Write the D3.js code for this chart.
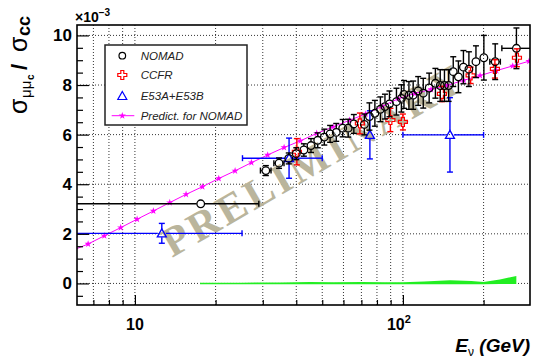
<!DOCTYPE html>
<html>
<head>
<meta charset="utf-8">
<script src="https://cdn.jsdelivr.net/npm/d3@7"></script>
<style>
  body { margin: 0; background: #fff; }
  text { font-family: "Liberation Sans", Arial, sans-serif; }
</style>
</head>
<body>
<div class="chart1"></div>
<script>
// NOMAD (open circles)
var nomadE   = [17.6, 30.8, 34.5, 37.5, 40.0, 42.7, 45.4, 48.1, 50.9, 53.5, 56.4, 59.6, 62.5, 65.6, 71.8, 75.0, 78.6, 82.4, 85.7, 89.1,
                94.6, 98.7, 100.9, 105.3, 109.2, 114.0, 119.1, 125.3, 132.2, 137.8, 142.9, 148.1, 154.1, 161.1, 168.2, 176.3, 187.3, 200.5, 221.0, 265.2];
var nomadV   = [3.21, 4.55, 4.85, 5.04, 5.23, 5.38, 5.56, 5.77, 5.90, 6.03, 6.09, 6.26, 6.26, 6.43, 6.41, 6.73, 6.86, 7.02, 7.13, 7.24,
                7.33, 7.46, 7.62, 7.58, 7.59, 7.76, 7.67, 7.88, 8.07, 7.98, 7.98, 7.98, 8.54, 8.33, 8.72, 8.64, 8.94, 9.10, 8.94, 9.48];
var nomadErr = [0.10, 0.20, 0.21, 0.22, 0.24, 0.25, 0.28, 0.30, 0.32, 0.34, 0.36, 0.35, 0.36, 0.38, 0.42, 0.55, 0.52, 0.50, 0.50, 0.52,
                0.54, 0.55, 0.56, 0.56, 0.57, 0.58, 0.60, 0.60, 0.60, 0.64, 0.64, 0.64, 0.60, 0.64, 0.67, 0.70, 0.64, 0.90, 0.72, 0.82];
var nomadLo  = [5.5, 29.4, 33.0, 37.5, 40.0, 42.7, 45.4, 48.1, 50.9, 53.5, 56.4, 59.6, 62.5, 65.6, 71.8, 75.0, 78.6, 82.4, 85.7, 89.1,
                94.6, 98.7, 100.9, 105.3, 109.2, 114.0, 119.1, 125.3, 132.2, 137.8, 142.9, 148.1, 154.1, 161.1, 168.2, 176.3, 187.3, 200.5, 211, 234];
var nomadHi  = [29.0, 32.2, 36.0, 37.5, 40.0, 42.7, 45.4, 48.1, 50.9, 53.5, 56.4, 59.6, 62.5, 65.6, 71.8, 75.0, 78.6, 82.4, 85.7, 89.1,
                94.6, 98.7, 100.9, 105.3, 109.2, 114.0, 119.1, 125.3, 132.2, 137.8, 142.9, 148.1, 154.1, 161.1, 168.2, 176.3, 187.3, 200.5, 231, 302];

// CCFR (open crosses)
var ccfrE   = [40.2, 69.1, 89.8, 100.0, 139.8, 178.9, 220.4, 266.4];
var ccfrV   = [5.31, 6.45, 6.59, 6.51, 7.64, 8.39, 8.65, 9.10];
var ccfrErr = [0.53, 0.42, 0.47, 0.32, 0.31, 0.33, 0.37, 0.36];

// E53A+E53B (open triangles)
var e53E   = [12.6, 37.6, 75.3, 149.8];
var e53V   = [2.02, 5.05, 5.99, 5.99];
var e53Err = [0.40, 0.81, 0.97, 1.50];
var e53Lo  = [5.0, 25.2, 75.3, 100];
var e53Hi  = [25.1, 50.0, 100, 200];

// Predict. for NOMAD (line + stars)
var predE = [5.82, 6.69, 7.69, 8.85, 10.19, 11.72, 13.49, 15.52, 17.86, 20.55, 23.65, 27.21, 31.30, 36.03, 41.45,
             47.69, 54.89, 63.15, 72.65, 83.61, 96.2, 110.7, 127.4, 146.6, 168.6, 194.1, 223.3, 256.9, 295.6];
var predV = [1.32, 1.59, 1.92, 2.25, 2.59, 2.92, 3.26, 3.59, 3.90, 4.23, 4.54, 4.87, 5.18, 5.48, 5.75,
             6.05, 6.31, 6.58, 6.83, 7.14, 7.45, 7.66, 7.82, 7.99, 8.19, 8.38, 8.58, 8.77, 8.96];

// green band near zero
var bandE  = [17.5, 25, 35, 45, 55, 70, 85, 100, 120, 150, 180, 200, 230, 265];
var bandLo = [-0.03, -0.03, -0.03, -0.03, -0.03, -0.03, -0.03, -0.03, -0.03, -0.03, -0.03, -0.03, -0.02, -0.02];
var bandHi = [0.03, 0.03, 0.04, 0.06, 0.05, 0.06, 0.05, 0.05, 0.08, 0.13, 0.10, 0.06, 0.16, 0.30];

var xMajor = [10, 100];
var xMinor = [7, 8, 9, 20, 30, 40, 50, 60, 70, 80, 90, 200];
var yMajor = [0, 2, 4, 6, 8, 10];

var svg = d3.select(".chart1")
    .append("svg")
    .attr("width", 533)
    .attr("height", 359);

var frameL = 77, frameR = 530, frameT = 25, frameB = 305;

var xScale = d3.scaleLog()
    .domain([6.08, 298])
    .range([frameL, frameR]);

var yScale = d3.scaleLinear()
    .domain([-0.87, 10.42])
    .range([frameB, frameT]);

svg.append("clipPath").attr("id", "frame")
  .append("rect")
    .attr("x", frameL).attr("y", frameT)
    .attr("width", frameR - frameL).attr("height", frameB - frameT);

// grid
var grid = svg.append("g").attr("stroke", "#000").attr("stroke-width", 0.8).attr("stroke-dasharray", "1,2");
grid.selectAll(".gx")
    .data(xMajor.concat(xMinor))
    .enter().append("line")
    .attr("x1", function(d) { return xScale(d); })
    .attr("x2", function(d) { return xScale(d); })
    .attr("y1", frameT).attr("y2", frameB);
grid.selectAll(".gy")
    .data(yMajor)
    .enter().append("line")
    .attr("x1", frameL).attr("x2", frameR)
    .attr("y1", function(d) { return yScale(d); })
    .attr("y2", function(d) { return yScale(d); });

// watermark
svg.append("text")
    .attr("transform", "translate(172,258) rotate(-30)")
    .style("font-family", "'Liberation Serif', 'Times New Roman', serif")
    .style("font-weight", "bold")
    .style("font-size", "42px")
    .style("letter-spacing", "3.5px")
    .attr("fill", "#bab59c")
    .text("PRELIMINARY");

var plot = svg.append("g").attr("clip-path", "url(#frame)");

// green band
var bandData = bandE.map(function(e, i) { return { e: e, lo: bandLo[i], hi: bandHi[i] }; });
plot.append("path")
    .datum(bandData)
    .attr("fill", "#22ee22")
    .attr("d", d3.area()
      .x(function(d) { return xScale(d.e); })
      .y0(function(d) { return yScale(d.lo); })
      .y1(function(d) { return yScale(d.hi); }));

// prediction line
var predData = predE.map(function(e, i) { return { e: e, v: predV[i] }; });
plot.append("path")
    .datum(predData)
    .attr("fill", "none")
    .attr("stroke", "#ff00ff")
    .attr("stroke-width", 1)
    .attr("d", d3.line()
      .x(function(d) { return xScale(d.e); })
      .y(function(d) { return yScale(d.v); }));
plot.selectAll(".star")
    .data(predData)
    .enter().append("path")
    .attr("transform", function(d) { return "translate(" + xScale(d.e) + "," + yScale(d.v) + ")"; })
    .attr("d", d3.symbol(d3.symbolStar).size(16))
    .attr("fill", "#ff00ff");

// error bars leaving a gap for the marker
function errorBars(g, pts, color, gap) {
  var cap = 3;
  pts.forEach(function(p) {
    var cx = xScale(p.e), cy = yScale(p.v);
    var yt = yScale(p.v + p.err), yb = yScale(p.v - p.err);
    var segs = [];
    if (cy - yt > gap) {
      segs.push([cx, yt, cx, cy - gap], [cx - cap, yt, cx + cap, yt]);
      segs.push([cx, cy + gap, cx, yb], [cx - cap, yb, cx + cap, yb]);
    }
    if (p.lo != null && p.lo < p.e) {
      var xl = xScale(p.lo), xh = xScale(p.hi);
      if (cx - xl > gap) segs.push([xl, cy, cx - gap, cy], [xl, cy - cap, xl, cy + cap]);
      if (xh - cx > gap) segs.push([cx + gap, cy, xh, cy], [xh, cy - cap, xh, cy + cap]);
    }
    segs.forEach(function(s) {
      g.append("line")
        .attr("x1", s[0]).attr("y1", s[1]).attr("x2", s[2]).attr("y2", s[3])
        .attr("stroke", color).attr("stroke-width", 1.4);
    });
  });
}

var crossPath = "M-1.5,-4.5h3v3h3v3h-3v3h-3v-3h-3v-3h3z";
var triPath = "M0,-4.5L4.5,3.5L-4.5,3.5Z";

// E53A+E53B
var e53Data = e53E.map(function(e, i) { return { e: e, v: e53V[i], err: e53Err[i], lo: e53Lo[i], hi: e53Hi[i] }; });
errorBars(plot, e53Data, "#0000ff", 4);
plot.selectAll(".tri")
    .data(e53Data)
    .enter().append("path")
    .attr("transform", function(d) { return "translate(" + xScale(d.e) + "," + yScale(d.v) + ")"; })
    .attr("d", triPath)
    .attr("fill", "none").attr("stroke", "#0000ff").attr("stroke-width", 1.3);

// CCFR
var ccfrData = ccfrE.map(function(e, i) { return { e: e, v: ccfrV[i], err: ccfrErr[i] }; });
errorBars(plot, ccfrData, "#ff0000", 4.5);
plot.selectAll(".cross")
    .data(ccfrData)
    .enter().append("path")
    .attr("transform", function(d) { return "translate(" + xScale(d.e) + "," + yScale(d.v) + ")"; })
    .attr("d", crossPath)
    .attr("fill", "none").attr("stroke", "#ff0000").attr("stroke-width", 1.2);

// NOMAD
var nomadData = nomadE.map(function(e, i) { return { e: e, v: nomadV[i], err: nomadErr[i], lo: nomadLo[i], hi: nomadHi[i] }; });
errorBars(plot, nomadData, "#000", 4);
plot.selectAll(".circ")
    .data(nomadData)
    .enter().append("circle")
    .attr("cx", function(d) { return xScale(d.e); })
    .attr("cy", function(d) { return yScale(d.v); })
    .attr("r", 3.8)
    .attr("fill", "none").attr("stroke", "#000").attr("stroke-width", 1.3);

// axes
var yAxis = d3.axisLeft(yScale).tickValues(yMajor).tickSize(-12).tickPadding(5).tickFormat(d3.format("d"));
var yMinorVals = d3.range(-0.5, 10.5, 0.5).filter(function(d) { return yMajor.indexOf(d) < 0; });
svg.append("g")
    .attr("transform", "translate(" + frameL + ",0)")
    .call(d3.axisLeft(yScale).tickValues(yMinorVals).tickSize(-6).tickFormat(""));
var gy = svg.append("g")
    .attr("transform", "translate(" + frameL + ",0)")
    .call(yAxis);
gy.selectAll("text").style("font-size", "17px").style("font-weight", "bold").attr("fill", "#000");

svg.append("g")
    .attr("transform", "translate(0," + frameB + ")")
    .call(d3.axisBottom(xScale).tickValues(xMinor).tickSize(-5).tickFormat(""));
svg.append("g")
    .attr("transform", "translate(0," + frameB + ")")
    .call(d3.axisBottom(xScale).tickValues(xMajor).tickSize(-10).tickFormat(""));
svg.selectAll(".domain").remove();
svg.selectAll(".tick line").attr("stroke", "#000").attr("stroke-width", 1.2);

// frame
svg.append("rect")
    .attr("x", frameL).attr("y", frameT)
    .attr("width", frameR - frameL).attr("height", frameB - frameT)
    .attr("fill", "none").attr("stroke", "#000").attr("stroke-width", 1.6);

// x tick labels
svg.append("text")
    .attr("x", xScale(10)).attr("y", 330)
    .attr("text-anchor", "middle")
    .style("font-size", "16px").style("font-weight", "bold")
    .text("10");
var t100 = svg.append("text")
    .attr("x", xScale(100) - 4).attr("y", 330)
    .attr("text-anchor", "middle")
    .style("font-size", "16px").style("font-weight", "bold");
t100.append("tspan").text("10");
t100.append("tspan").attr("dy", -7).style("font-size", "11px").text("2");

// exponent label
var ex = svg.append("text")
    .attr("x", 75).attr("y", 22)
    .style("font-size", "14px").style("font-weight", "bold");
ex.append("tspan").text("\u00d710");
ex.append("tspan").attr("dy", -6).style("font-size", "10px").text("\u22123");

// x label
var xl = svg.append("text")
    .attr("x", 530).attr("y", 352)
    .attr("text-anchor", "end")
    .style("font-size", "19px").style("font-weight", "bold").style("font-style", "italic");
xl.append("tspan").text("E");
xl.append("tspan").attr("dy", 4).style("font-size", "12px").style("font-style", "normal").style("font-weight", "normal").text("\u03bd");
xl.append("tspan").attr("dy", -4).text(" (GeV)");

// y label
var yl = svg.append("text")
    .attr("transform", "translate(27,114) rotate(-90)")
    .style("font-size", "20px").style("font-weight", "bold");
yl.append("tspan").attr("x", 0).style("font-size", "25px").style("font-weight", "normal").text("\u03c3");
yl.append("tspan").attr("x", 16).attr("dy", 4).style("font-size", "15px").style("font-weight", "normal").text("\u03bc\u03bc");
yl.append("tspan").attr("x", 34).attr("dy", 3).style("font-size", "10px").text("c");
yl.append("tspan").attr("x", 44).attr("dy", -7).style("font-size", "22px").text("/");
yl.append("tspan").attr("x", 62).style("font-size", "25px").style("font-weight", "normal").text("\u03c3");
yl.append("tspan").attr("x", 78).attr("dy", 3).style("font-size", "18px").text("cc");

// legend
var lg = svg.append("g").attr("transform", "translate(105,45)");
lg.append("rect")
    .attr("width", 142).attr("height", 80)
    .attr("fill", "#fff").attr("stroke", "#222").attr("stroke-width", 1.5);
var rows = [
  { label: "NOMAD", y: 10.7 },
  { label: "CCFR", y: 30 },
  { label: "E53A+E53B", y: 51 },
  { label: "Predict. for NOMAD", y: 70.7 }
];
rows.forEach(function(r) {
  lg.append("text")
    .attr("x", 35.7).attr("y", r.y + 4.2)
    .style("font-size", "11.5px").style("font-style", "italic").attr("fill", "#222")
    .text(r.label);
});
lg.append("circle").attr("cx", 17.3).attr("cy", 10.7).attr("r", 3.3)
    .attr("fill", "none").attr("stroke", "#000").attr("stroke-width", 1.2);
lg.append("path").attr("transform", "translate(17.3,30)").attr("d", crossPath)
    .attr("fill", "none").attr("stroke", "#ff0000").attr("stroke-width", 1.2);
lg.append("path").attr("transform", "translate(17.3,51)").attr("d", triPath)
    .attr("fill", "none").attr("stroke", "#0000ff").attr("stroke-width", 1.2);
lg.append("line").attr("x1", 6.7).attr("x2", 29.3).attr("y1", 70.7).attr("y2", 70.7)
    .attr("stroke", "#ff00ff").attr("stroke-width", 1);
lg.append("path").attr("transform", "translate(17.3,70.7)")
    .attr("d", d3.symbol(d3.symbolStar).size(16)).attr("fill", "#ff00ff");
</script>
</body>
</html>
